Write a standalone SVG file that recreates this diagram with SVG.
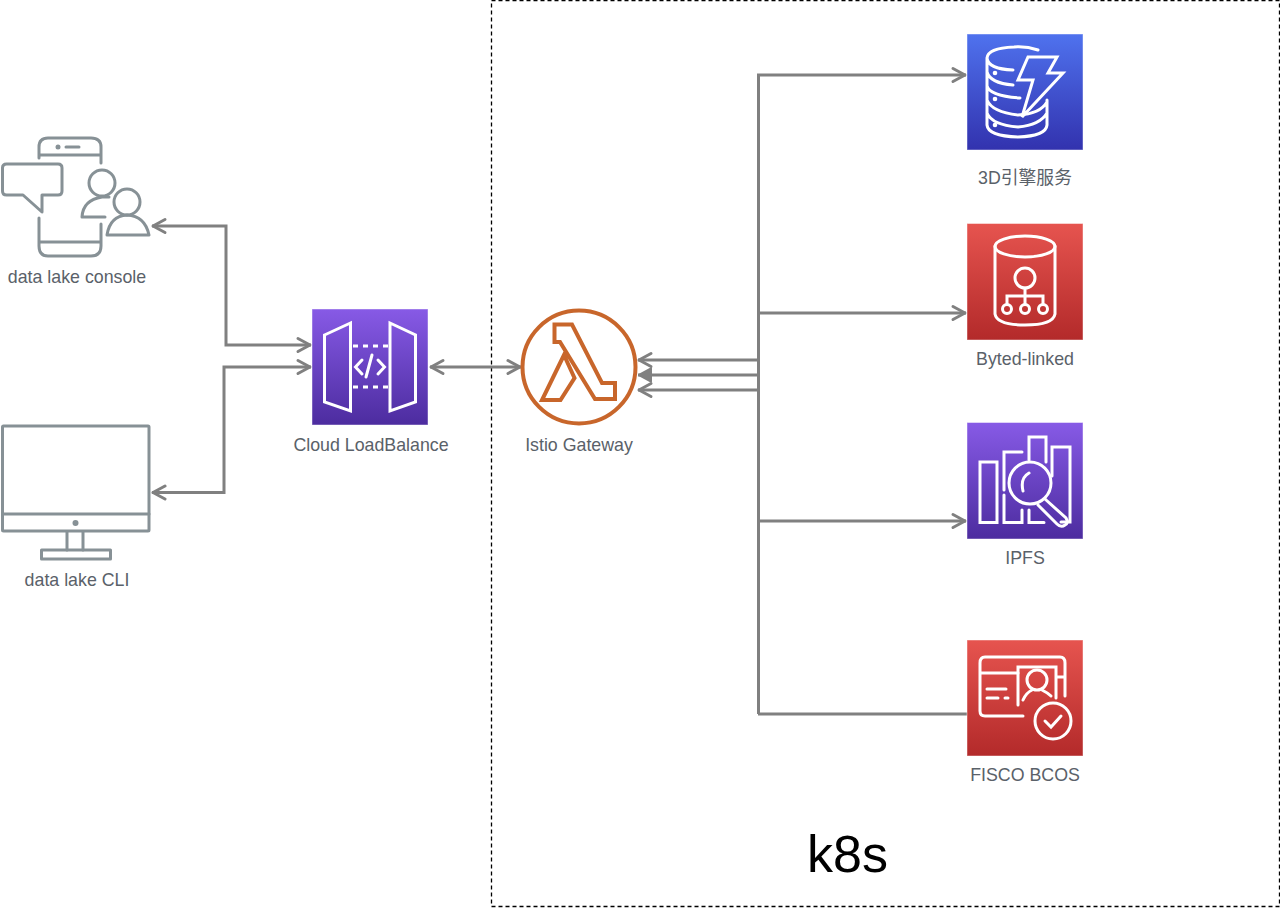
<svg xmlns="http://www.w3.org/2000/svg" width="1280" height="908" viewBox="0 0 1280 908">
<style>
.lbl{font-family:"Liberation Sans","Noto Sans CJK SC",sans-serif;font-size:17.800px;fill:#5a6169;text-anchor:middle}
.wh{fill:none;stroke:#fff;stroke-width:3;stroke-linejoin:miter;stroke-linecap:round}
.gr{fill:none;stroke:#879196;stroke-width:3;stroke-linecap:round;stroke-linejoin:round}
.cn{fill:none;stroke:#808080;stroke-width:3;marker-end:url(#a)}
.both{marker-start:url(#a)}
.tile{stroke:#fff;stroke-opacity:.45;stroke-width:1}
</style>
<defs>
<linearGradient id="blue" x1="0" y1="0" x2="0" y2="1"><stop offset="0" stop-color="#4f72ee"/><stop offset="1" stop-color="#3232ae"/></linearGradient>
<linearGradient id="red" x1="0" y1="0" x2="0" y2="1"><stop offset="0" stop-color="#e6544f"/><stop offset="1" stop-color="#b32a2a"/></linearGradient>
<linearGradient id="purple" x1="0" y1="0" x2="0" y2="1"><stop offset="0" stop-color="#875ae6"/><stop offset="1" stop-color="#4c2c9f"/></linearGradient>
<marker id="a" viewBox="0 0 18 18" refX="16" refY="9" markerWidth="18" markerHeight="18" markerUnits="userSpaceOnUse" orient="auto-start-reverse"><path d="M3 2.500L15 9L3 15.500" fill="none" stroke="#808080" stroke-width="3" stroke-linejoin="round" stroke-linecap="round"/></marker>
<marker id="b" viewBox="0 0 18 18" refX="16" refY="9" markerWidth="18" markerHeight="18" markerUnits="userSpaceOnUse" orient="auto-start-reverse"><path d="M3 2.500L15 9L3 15.500Z" fill="#808080" stroke="#808080" stroke-width="2" stroke-linejoin="round"/></marker>
</defs>
<g id="k8s-boundary">
<rect x="491.500" y="0.500" width="788" height="906" fill="none" stroke="#000" stroke-width="1.300" stroke-dasharray="4 3"/>
<text x="847.500" y="872" font-family="Liberation Sans,sans-serif" font-size="52" fill="#000" text-anchor="middle">k8s</text>
</g>
<g id="connectors">
<path class="cn both" d="M152 226H226V345H311"/>
<path class="cn both" d="M152 492.500H224V367H311"/>
<path class="cn both" d="M430 367H521"/>
<path class="cn" d="M758 360H638"/>
<path class="cn" style="marker-end:url(#b)" d="M758 375H638"/>
<path class="cn" d="M758 390H638"/>
<path class="cn" d="M758.500 714V75H966"/>
<path class="cn" d="M758 313H966"/>
<path class="cn" d="M758 521H966"/>
<path d="M758 714H967" fill="none" stroke="#808080" stroke-width="3"/>
</g>
<g id="data-lake-console">
<path class="gr" d="M39 158V147Q39 138 48 138H91Q101 138 101 147V163M39 155H101M66 147H79M39 218V246Q39 256 48 256H91Q101 256 101 246V224M39 242H101"/>
<circle cx="58" cy="147" r="2.500" fill="#879196"/>
<path class="gr" d="M6.500 164H58Q62 164 62 168V191Q62 195 58 195H42V212L23 195H6.500Q2.500 195 2.500 191V168Q2.500 164 6.500 164Z"/>
<circle cx="102" cy="183" r="13" class="gr"/>
<path class="gr" d="M82 217Q83 200 102 197H109M82 217H105"/>
<circle cx="127" cy="202" r="13" class="gr"/>
<path class="gr" d="M107 235Q110 216 127 215Q145 216 149 235Z"/>
<text class="lbl" x="77" y="283">data lake console</text>
</g>
<g id="data-lake-cli">
<rect x="2.500" y="426" width="146.500" height="105" rx="1" class="gr"/>
<path class="gr" d="M2.500 514H149M67 532V550M83 532V550"/>
<circle cx="75.500" cy="523" r="3" fill="#879196"/>
<rect x="41.500" y="550" width="69" height="9" class="gr"/>
<text class="lbl" x="77" y="586">data lake CLI</text>
</g>
<g id="cloud-loadbalance">
<rect class="tile" x="312" y="309" width="116" height="116" fill="url(#purple)"/>
<path class="wh" d="M324.500 335L350.500 323V411L324.500 402ZM390 323L415.500 335V402L390 411Z"/>
<path class="wh" stroke-dasharray="5 5" d="M353 346H388M353 387H388" style="stroke-linecap:butt"/>
<path class="wh" d="M362 360L355.500 367L362 374M378 360L384.500 367L378 374M372 355L366 377"/>
<text class="lbl" x="371" y="451">Cloud LoadBalance</text>
</g>
<g id="istio-gateway">
<circle cx="579" cy="367" r="56.500" fill="#fff" stroke="#c8662b" stroke-width="4"/>
<path fill="none" stroke="#c8662b" stroke-width="4" d="M554.500 324.500H572L602 383H615V399H595L560 342H554.500ZM564 355L574.500 378L560.500 400H542Z"/>
<text class="lbl" x="579" y="451">Istio Gateway</text>
</g>
<g id="engine-3d">
<rect class="tile" x="967" y="34" width="116" height="116" fill="url(#blue)"/>
<path class="wh" d="M1038 50Q1026 46 1014 47Q988 48 987 58Q988 69 1013 70M987 58V125Q988 136 1018 137Q1046 136 1047 125V100M987 72Q990 83 1013 85M987 86Q990 96 1020 98M987 100Q992 112 1018 115Q1040 114 1047 102M987 113Q992 125 1018 127Q1040 125 1047 113"/>
<circle cx="995" cy="73" r="2.300" fill="#fff"/><circle cx="995" cy="99" r="2.300" fill="#fff"/><circle cx="995" cy="125" r="2.300" fill="#fff"/>
<path class="wh" d="M1028 57H1057L1048 73H1063L1022 117L1033 80H1018Z"/>
<text class="lbl" x="1025" y="184">3D引擎服务</text>
</g>
<g id="byted-linked">
<rect class="tile" x="967" y="223.500" width="116" height="116.500" fill="url(#red)"/>
<ellipse cx="1025" cy="246.500" rx="30" ry="10.500" class="wh"/>
<path class="wh" d="M995 246V314Q997 325 1025 325Q1053 325 1055 314V246"/>
<circle cx="1025" cy="278" r="10" class="wh"/>
<path class="wh" d="M1025 288V304M1007 304V296H1043V304"/>
<circle cx="1007" cy="309" r="4.500" class="wh"/><circle cx="1025" cy="309" r="4.500" class="wh"/><circle cx="1043" cy="309" r="4.500" class="wh"/>
<text class="lbl" x="1025" y="365">Byted-linked</text>
</g>
<g id="ipfs">
<rect class="tile" x="967" y="422.500" width="116" height="116.500" fill="url(#purple)"/>
<path class="wh" d="M980 462H997V522.500H980ZM1004 490V452H1022M1004 495V522.500H1022V510M1029 460V437H1046V462M1029 510V522.500H1044M1052 476V447H1070V522H1061"/>
<circle cx="1030" cy="483" r="21" class="wh"/>
<path class="wh" d="M1029 473Q1020 478 1023 491M1045 499L1066 518Q1069 523 1065 525Q1061 528 1057 524L1038 505"/>
<text class="lbl" x="1025" y="564">IPFS</text>
</g>
<g id="fisco-bcos">
<rect class="tile" x="967" y="640" width="116" height="116" fill="url(#red)"/>
<path class="wh" d="M1023 716H985Q980 716 980 711V663Q980 657 985 657H1060Q1065 657 1065 663V696M980 673H1018M1057 677H1065"/>
<path class="wh" d="M1018 705V667H1056V698M987 689H1006M987 698H998M1005 698H1008"/>
<circle cx="1037" cy="680" r="10" class="wh"/>
<path class="wh" d="M1023 700Q1026 693 1032 690M1042 690Q1048 693 1051 696"/>
<circle cx="1053" cy="721" r="18" class="wh"/>
<path class="wh" d="M1045 721L1051 727L1061 716"/>
<text class="lbl" x="1025" y="781">FISCO BCOS</text>
</g>
</svg>
